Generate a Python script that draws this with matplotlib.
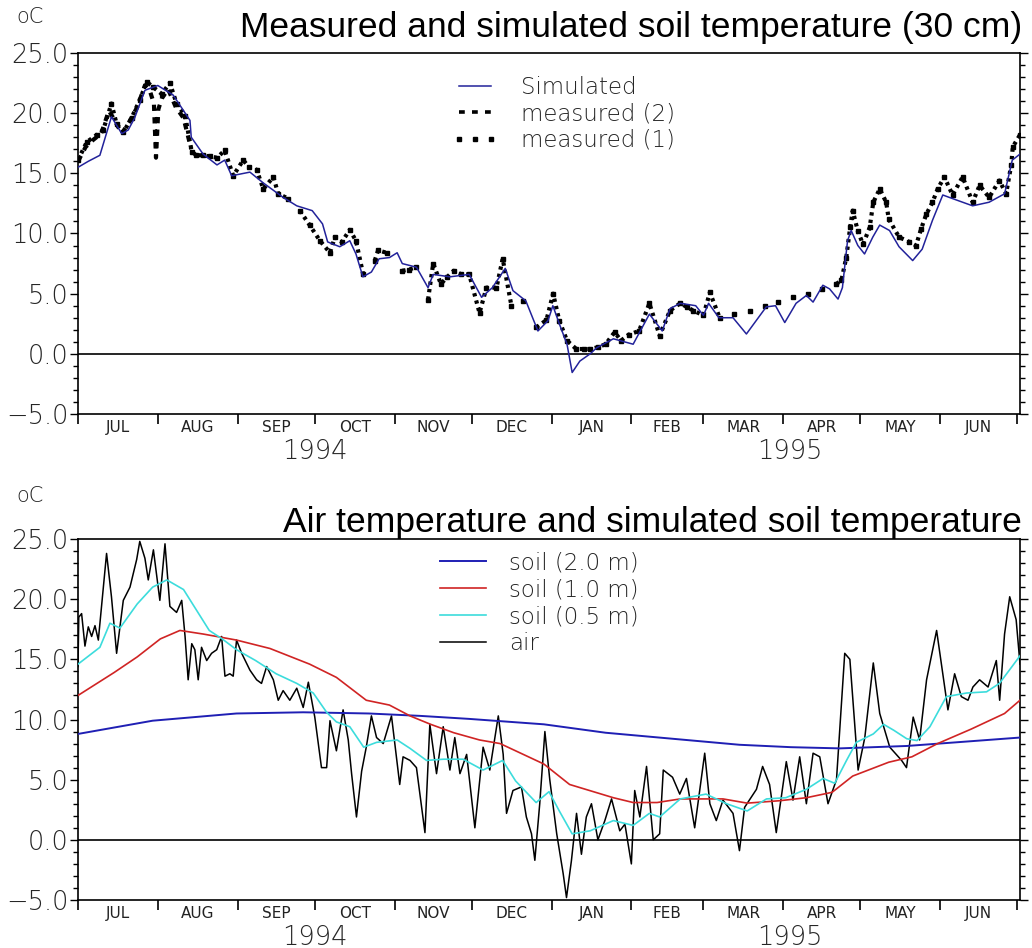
import matplotlib
matplotlib.use('Agg')
import matplotlib.pyplot as plt
from matplotlib.lines import Line2D
from matplotlib.ticker import MultipleLocator

# 时间轴: 自 1994-07-01 起的天数
month_starts = [0, 31, 62, 92, 123, 153, 184, 215, 243, 274, 304, 335, 365]
month_labels = ['JUL', 'AUG', 'SEP', 'OCT', 'NOV', 'DEC',
                'JAN', 'FEB', 'MAR', 'APR', 'MAY', 'JUN']
year_labels = ['1994', '1995']
year_days = [92, 276.5]
y_ticks = [-5, 0, 5, 10, 15, 20, 25]

# 上图: 30 cm 土壤温度
sim_day = [0, 4, 8.5, 13, 17, 19.5, 22, 26, 31, 37, 43.5, 44, 48.6, 54, 57, 59.7,
           66.8, 72, 79.7, 85, 91, 95, 97, 101.7, 105.6, 108, 110.7, 114, 117, 121,
           124, 126, 131.5, 136, 138, 144.5, 152, 156.8, 161, 166, 169, 174, 178.7,
           182.6, 184.5, 187, 190, 192, 195, 199, 201.5, 208, 215.7, 222, 227, 230,
           234, 240, 243, 245, 249, 254.5, 259.7, 267.4, 271, 274.6, 279, 283, 285.6,
           289.4, 292, 295.3, 297, 299, 300.4, 303, 305.6, 308.8, 311.5, 315.3, 319,
           324.3, 328, 332, 336, 339.8, 347.6, 354, 360, 363, 366]
sim_temp = [15.5, 16.0, 16.5, 19.7, 18.3, 18.6, 19.6, 21.9, 22.3, 21.5, 19.4, 18.0, 16.6,
            15.7, 16.1, 14.8, 15.1, 14.2, 13.0, 12.3, 11.9, 10.8, 9.3, 8.9, 9.4, 8.3,
            6.4, 6.8, 7.9, 8.0, 8.4, 7.5, 7.2, 5.5, 6.6, 6.4, 6.6, 4.7, 5.5, 7.1, 5.25,
            4.4, 1.9, 2.75, 4.0, 2.5, 0.8, -1.55, -0.6, 0.0, 0.5, 1.25, 0.8, 3.3, 1.9,
            3.75, 4.2, 4.0, 3.2, 4.2, 3.0, 3.0, 1.65, 3.9, 4.0, 2.6, 4.2, 4.85, 4.3,
            5.7, 5.4, 4.55, 5.5, 9.4, 10.25, 9.0, 8.3, 9.7, 10.7, 10.25, 8.9, 7.75,
            8.7, 11.1, 13.2, 12.9, 12.3, 12.6, 13.3, 16.1, 16.6]

m2_day = [0, 3, 6, 9, 12, 14, 17, 20, 23, 26, 28, 29.5, 30.3, 31.2, 32.5, 35, 38, 41, 44]
m2_temp = [16.0, 17.2, 17.8, 18.3, 20.2, 19.5, 18.3, 19.3, 20.5, 22.3, 21.8, 20.8, 16.3,
           20.3, 21.2, 22.0, 20.5, 19.6, 17.0]

m1_day = [0, 3.4, 7.3, 9.8, 13, 15, 17.6, 20.8, 24, 26.7, 29, 32.5, 35.7, 38.3, 41.6,
          44.2, 46, 48.5, 51.3, 54, 57, 60.3, 64.2, 66.5, 69.4, 72, 75.9, 77.8, 81.7,
          86.2, 90, 94, 97.9, 99.8, 102.5, 105.6, 108, 110.8, 115.3, 116.6, 119.9, 126,
          128.5, 131.5, 136, 138, 141, 143.5, 146, 149, 152, 156, 158.7, 162.6, 165,
          168.4, 173, 178, 182, 184.6, 187, 190, 193.6, 196.5, 199, 202, 205, 208.5,
          211, 214, 218, 222, 226, 230, 234, 236.5, 239, 243, 245.5, 249.3, 255, 261,
          266.8, 272, 277.8, 283.6, 289, 294.6, 296.6, 298.5, 300, 301, 303, 305, 307.6,
          309, 311.5, 314, 315, 319, 323, 325.6, 327.6, 329.6, 332, 334, 336.6, 339.8,
          343.7, 347.6, 350.3, 354, 358, 360.6, 362.6, 363.2, 366]
m1_temp = [16.1, 17.6, 18.2, 18.6, 20.8, 19.1, 18.4, 19.6, 21.1, 22.6,
           22.2, 21.6, 22.5, 20.8, 19.8, 16.8, 16.5, 16.5, 16.4, 16.3,
           16.9, 14.8, 16.1, 15.5, 15.3, 13.7, 14.7, 13.3, 12.9, 11.9,
           10.7, 9.4, 8.4, 9.7, 9.3, 10.3, 9.4, 6.6, 7.75, 8.6,
           8.4, 6.9, 7.0, 7.2, 4.5, 7.5, 5.8, 6.4, 6.9, 6.6,
           6.6, 3.4, 5.5, 5.5, 7.9, 4.0, 4.4, 2.2, 2.8, 5.0,
           2.75, 1.1, 0.4, 0.4, 0.4, 0.55, 0.8, 1.8, 1.1, 1.6,
           1.9, 4.2, 1.5, 3.6, 4.2, 3.9, 3.6, 3.2, 5.1, 3.0,
           3.3, 3.6, 4.0, 4.3, 4.7, 5.0, 5.4, 5.8, 6.1, 8.0,
           10.5, 11.9, 10.2, 9.1, 10.5, 12.6, 13.7, 12.6, 11.2, 9.7,
           9.3, 9.0, 10.4, 11.6, 12.6, 13.7, 14.7, 13.2, 14.7, 12.6,
           14.0, 13.0, 14.4, 13.3, 15.7, 17.2, 18.2]

# 下图: 气温与模拟土壤温度
s20_day = [0, 29, 61.6, 87.5, 113, 133, 152, 181, 205, 231, 257, 277, 296, 322, 341, 366]
s20_temp = [8.8, 9.9, 10.5, 10.6, 10.5, 10.3, 10.05, 9.6, 8.9, 8.4, 7.9, 7.7, 7.6, 7.8, 8.1, 8.5]

s10_day = [0, 14, 23, 32, 39.6, 48.7, 61.6, 74.6, 90, 100.4, 112, 121, 129, 137, 146, 156,
           164, 173, 181, 191, 208, 215.7, 225, 234, 250.6, 260, 272.6, 283, 293, 301,
           315, 324, 334, 347, 360, 366]
s10_temp = [12.0, 13.9, 15.2, 16.7, 17.4, 17.1, 16.6, 15.9, 14.6, 13.5, 11.6, 11.2, 10.3,
            9.6, 8.9, 8.3, 8.0, 7.1, 6.3, 4.6, 3.5, 3.1, 3.1, 3.4, 3.4, 3.05, 3.25, 3.5,
            3.95, 5.3, 6.45, 6.9, 8.0, 9.2, 10.5, 11.6]

s05_day = [0, 8.5, 12.4, 16.3, 23, 29, 34.5, 41, 46, 51, 56, 61.6, 69, 77, 85, 91.4, 96.6,
           100.4, 105.6, 111, 116, 124, 129, 135.4, 142, 149.6, 157.4, 165, 170, 178, 183,
           187, 192, 199, 208, 215.7, 222, 226, 234, 244, 252, 260, 267.5, 275, 283,
           289.5, 294, 298.6, 302.4, 309, 313, 317, 322, 326, 331, 337.4, 345.2, 353, 358,
           363.6, 366.7]
s05_temp = [14.6, 16.0, 18.0, 17.6, 19.6, 21.0, 21.6, 20.8, 19.1, 17.4, 16.7, 15.8, 14.9,
            13.8, 13.0, 12.2, 10.6, 9.8, 9.4, 7.7, 8.1, 8.3, 7.6, 6.6, 6.7, 6.7, 5.8, 6.6,
            4.9, 3.1, 4.0, 2.4, 0.5, 0.75, 1.6, 1.2, 2.2, 1.9, 3.4, 3.8, 3.0, 2.4, 3.4, 3.5,
            4.2, 5.1, 4.7, 6.6, 8.1, 8.8, 9.6, 9.1, 8.4, 8.25, 9.4, 11.9, 12.2, 12.3, 13.0,
            14.6, 15.5]

air_day = [0, 0.3, 1.4, 2.7, 4, 5.3, 6.6, 7.9, 11.1, 13,
           15, 17.6, 20.2, 22.8, 24, 26, 27.3, 29.3, 31.8, 33.8,
           35.7, 38.3, 40.3, 41.6, 42.8, 44.2, 45.4, 46.7, 48, 50,
           51.9, 53.9, 55.8, 57.1, 59, 60.3, 61.6, 63.6, 66.8, 69.4,
           71.3, 73.3, 75.9, 77.8, 79.7, 82.3, 85, 87.5, 89.5, 92,
           94.6, 96.6, 97.9, 100.4, 103, 105, 106.3, 108.2, 110.2, 112,
           114, 116, 118.6, 121.8, 125, 126.3, 129, 131.5, 134.8, 136.7,
           139.3, 141.9, 144.5, 146.4, 148.4, 151, 154.2, 157.4, 160, 163.3,
           165.2, 166.5, 169, 172.3, 174.2, 176.2, 177.5, 179.4, 181.4, 183.3,
           186, 188.5, 189.8, 191.7, 193.7, 195.6, 197.5, 199.5, 202, 204.7,
           207.3, 210.5, 212.5, 215, 216.3, 218.3, 220.9, 223.5, 226, 227.4,
           231, 233.8, 236.4, 239.6, 243.5, 245.5, 248, 250.6, 254.5, 257,
           259, 263.6, 266, 268.7, 271.3, 275.2, 277.8, 280.4, 283, 285.6,
           288.2, 291.4, 294.7, 297.9, 299.9, 303.1, 305.7, 309, 311.5, 315.4,
           320, 321.9, 324.5, 327, 329.7, 333.6, 338, 340.6, 343.2, 345.8,
           347.7, 350.3, 353.6, 356.8, 358.1, 360, 362, 364.5, 366]
air_temp = [14.4, 18.5, 18.8, 16.1, 17.7, 16.9, 17.8, 16.6, 23.8, 20.2,
            15.5, 19.9, 21.0, 23.3, 24.8, 23.4, 21.6, 24.1, 19.9, 24.6,
            19.4, 18.9, 19.9, 16.9, 13.3, 16.3, 15.8, 13.3, 16.0, 14.9,
            15.5, 15.8, 16.9, 13.6, 13.8, 13.6, 16.6, 15.5, 14.1, 13.3,
            13.0, 14.4, 13.3, 11.6, 12.4, 11.6, 12.6, 11.0, 13.1, 10.2,
            6.0, 6.0, 9.9, 7.4, 10.8, 8.3, 5.5, 1.9, 5.7, 7.7,
            10.3, 8.5, 8.0, 10.3, 4.6, 6.9, 6.6, 6.0, 0.6, 9.6,
            5.5, 9.4, 5.8, 8.5, 5.5, 7.1, 1.0, 7.7, 5.8, 10.3,
            7.1, 2.2, 4.1, 4.4, 1.9, 0.5, -1.7, 3.0, 9.0, 5.0,
            0.5, -2.8, -4.8, -1.75, 2.2, -1.2, 1.9, 3.0, 0.0, 1.6,
            3.4, 0.75, 1.3, -2.0, 4.1, 1.9, 6.1, 0.0, 0.5, 5.8,
            5.2, 3.8, 5.1, 1.0, 7.2, 3.0, 1.6, 3.3, 2.2, -0.9,
            2.7, 4.2, 6.1, 4.6, 0.6, 6.5, 3.3, 6.9, 3.0, 7.2,
            6.9, 3.0, 5.0, 15.5, 15.0, 5.8, 8.5, 14.7, 10.5, 7.7,
            6.6, 6.0, 10.2, 8.3, 13.3, 17.4, 10.8, 13.8, 11.9, 11.6,
            12.7, 13.3, 12.7, 14.9, 11.6, 17.1, 20.2, 18.3, 14.6]

TICK_FONT = 'DejaVu Sans'
TITLE_FONT = 'Liberation Sans'
TEXT_COLOR = '#262626'


# 坐标轴样式: 月份刻度, 年份, 0 度线
def style_axis(ax):
    ax.set_xlim(0, 366)
    ax.set_ylim(-5, 25)
    ax.axhline(0, color='black', lw=1.2, zorder=1)

    mids = [(a + b) / 2 for a, b in zip(month_starts[:-1], month_starts[1:])]
    ax.set_xticks(month_starts)
    ax.set_xticklabels([])
    ax.set_xticks(mids, minor=True)
    ax.set_xticklabels(month_labels, minor=True, fontsize=11, family=TICK_FONT, color='#222222')
    ax.tick_params(axis='x', which='major', direction='out', length=7, width=1.2)
    ax.tick_params(axis='x', which='minor', length=0, pad=4)

    ax.set_yticks(y_ticks)
    ax.set_yticklabels(['{:.1f}'.format(v).replace('-', '\u2212') for v in y_ticks],
                       fontsize=18.5, family=TICK_FONT, weight='light', color=TEXT_COLOR)
    ax.yaxis.set_minor_locator(MultipleLocator(1))
    ax.tick_params(axis='y', which='both', direction='out', left=True, right=True, width=1.0)
    ax.tick_params(axis='y', which='major', length=6, pad=1)
    ax.tick_params(axis='y', which='minor', length=3.5)

    for spine in ax.spines.values():
        spine.set_linewidth(1.2)

    for label, day in zip(year_labels, year_days):
        ax.annotate(label, xy=(day, 0), xycoords=('data', 'axes fraction'),
                    xytext=(0, -18), textcoords='offset points', ha='center', va='top',
                    fontsize=18.5, family=TICK_FONT, weight='light', color=TEXT_COLOR)


# 把测量点按间隔切成连续段 (间隔大于 4 天的不连线)
def dense_runs(days, temps, gap=4):
    runs, start = [], 0
    for i in range(1, len(days)):
        if days[i] - days[i - 1] > gap:
            runs.append((days[start:i], temps[start:i]))
            start = i
    runs.append((days[start:], temps[start:]))
    return [r for r in runs if len(r[0]) > 1]


fig = plt.figure(figsize=(10.32, 9.48), dpi=100)
ax1 = fig.add_axes([78 / 1032, 534 / 948, 942 / 1032, 361 / 948])
ax2 = fig.add_axes([78 / 1032, 48 / 948, 942 / 1032, 361 / 948])

# 上图
ax1.plot(sim_day, sim_temp, color='#22229a', lw=1.1, zorder=3)
ax1.plot(m2_day, m2_temp, color='black', lw=3, ls=(0, (1.5, 1.5)), zorder=2)
ax1.plot(m1_day, m1_temp, color='black', ls='none', marker='s', ms=3.4, zorder=2)
for d, t in dense_runs(m1_day, m1_temp):
    ax1.plot(d, t, color='black', lw=3, ls=(0, (0.8, 1.0)), zorder=2)
style_axis(ax1)
handles1 = [Line2D([], [], color='#22229a', lw=1.1),
            Line2D([], [], color='black', lw=2.6, ls=(0, (1.6, 2.0))),
            Line2D([], [], color='black', ls='none', marker='s', ms=3.0)]
ax1.legend(handles1, ['Simulated', 'measured (2)', 'measured (1)'], loc='upper left',
           bbox_to_anchor=(452 / 1032, 1 - 76 / 948), bbox_transform=fig.transFigure,
           frameon=False, borderpad=0, borderaxespad=0, handlelength=2.0,
           handletextpad=1.0, labelspacing=0.15, numpoints=3,
           prop={'family': TICK_FONT, 'size': 16.5, 'weight': 'light'})
for text in ax1.get_legend().get_texts():
    text.set_color(TEXT_COLOR)

# 下图
ax2.plot(s20_day, s20_temp, color='#1f1fb4', lw=1.4, zorder=3)
ax2.plot(s10_day, s10_temp, color='#d02424', lw=1.2, zorder=3)
ax2.plot(s05_day, s05_temp, color='#3cdcdc', lw=1.2, zorder=3)
ax2.plot(air_day, air_temp, color='black', lw=1.1, zorder=2)
style_axis(ax2)
handles2 = [Line2D([], [], color='#1f1fb4', lw=1.4),
            Line2D([], [], color='#d02424', lw=1.2),
            Line2D([], [], color='#3cdcdc', lw=1.2),
            Line2D([], [], color='black', lw=1.1)]
ax2.legend(handles2, ['soil (2.0 m)', 'soil (1.0 m)', 'soil (0.5 m)', 'air'], loc='upper left',
           bbox_to_anchor=(440 / 1032, 1 - 551 / 948), bbox_transform=fig.transFigure,
           frameon=False, borderpad=0, borderaxespad=0, handlelength=2.0,
           handletextpad=1.0, labelspacing=0.18,
           prop={'family': TICK_FONT, 'size': 16.5, 'weight': 'light'})
for text in ax2.get_legend().get_texts():
    text.set_color(TEXT_COLOR)

# 标题与单位
fig.text(1022 / 1032, 1 - 37 / 948, 'Measured and simulated soil temperature (30 cm)',
         ha='right', va='baseline', fontsize=25.5, family=TITLE_FONT)
fig.text(1022 / 1032, 1 - 532 / 948, 'Air temperature and simulated soil temperature',
         ha='right', va='baseline', fontsize=25.5, family=TITLE_FONT)
fig.text(30 / 1032, 1 - 17 / 948, 'oC', ha='center', va='center', fontsize=15,
         family=TICK_FONT, weight='light', color=TEXT_COLOR)
fig.text(30 / 1032, 1 - 496 / 948, 'oC', ha='center', va='center', fontsize=15,
         family=TICK_FONT, weight='light', color=TEXT_COLOR)

fig.savefig('out.png', dpi=100, facecolor='white')
